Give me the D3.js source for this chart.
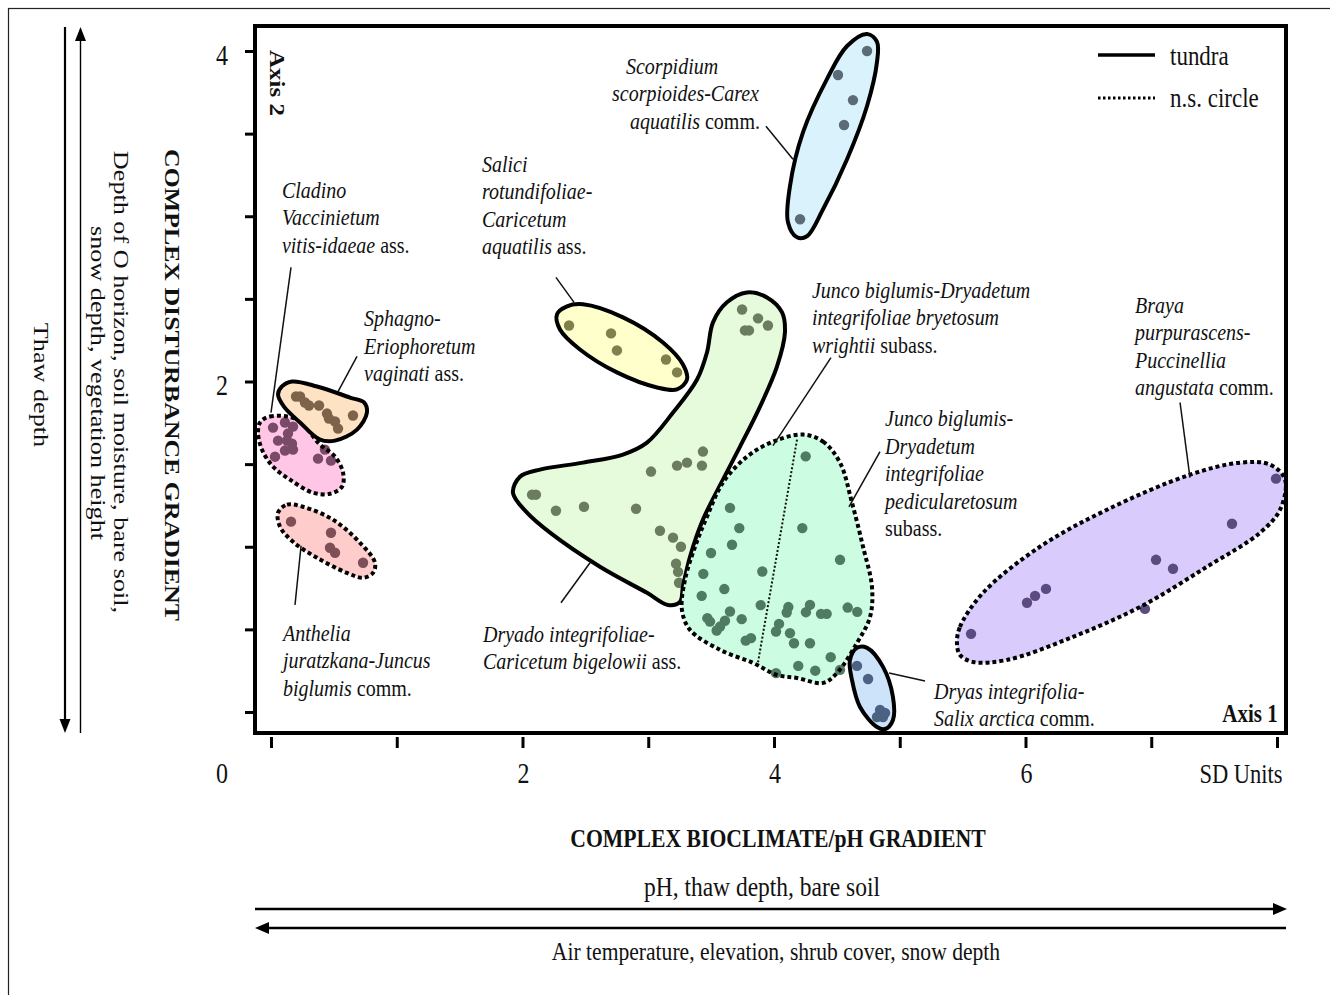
<!DOCTYPE html>
<html><head><meta charset="utf-8">
<script src="https://cdn.jsdelivr.net/npm/d3@7"></script>
<style>
html,body{margin:0;padding:0;background:#fff;}
svg{display:block;}
text{font-family:"Liberation Serif","Times New Roman",serif;fill:#111;}
</style></head><body>
<svg id="chart" width="1330" height="995"></svg>
<script>
// ---------------- DATA (axis units: SD units) ----------------
const xTickValues = [0,1,2,3,4,5,6,7,8];
const xTickLabels = [{v:2,t:"2"},{v:4,t:"4"},{v:6,t:"6"},{v:8,t:"SD Units"}];
const yTickValues = [0,0.5,1,1.5,2,2.5,3,3.5,4];
const yTickLabels = [{v:2,t:"2"},{v:4,t:"4"}];

// Cladino-Vaccinietum vitis-idaeae ass.
const cladinoPts = [[0.016,1.721],[0.111,1.752],[0.175,1.727],[0.135,1.685],[0.056,1.642],[0.127,1.642],[0.167,1.624],[0.111,1.582],[0.175,1.588],[0.032,1.545],[0.429,1.588],[0.374,1.533],[0.477,1.521]];
const cladinoHull = [[-0.087,1.752],[-0.008,1.788],[0.207,1.770],[0.390,1.618],[0.509,1.545],[0.573,1.448],[0.565,1.364],[0.469,1.321],[0.334,1.327],[0.151,1.406],[0.016,1.485],[-0.072,1.588],[-0.103,1.691]];
// Sphagno-Eriophoretum vaginati ass.
const sphagnoPts = [[0.199,1.909],[0.231,1.909],[0.270,1.873],[0.302,1.855],[0.382,1.855],[0.445,1.806],[0.461,1.776],[0.509,1.758],[0.533,1.715],[0.652,1.794]];
const sphagnoHull = [[0.087,1.970],[0.167,2.000],[0.366,1.970],[0.628,1.903],[0.740,1.873],[0.763,1.812],[0.684,1.709],[0.509,1.642],[0.390,1.648],[0.231,1.752],[0.103,1.848],[0.056,1.921]];
// Anthelia juratzkana-Juncus biglumis comm.
const antheliaPts = [[0.159,1.152],[0.477,1.085],[0.469,0.994],[0.509,0.964],[0.732,0.903]];
const antheliaHull = [[0.056,1.206],[0.127,1.255],[0.254,1.242],[0.493,1.164],[0.708,1.024],[0.827,0.903],[0.811,0.842],[0.732,0.812],[0.604,0.842],[0.366,0.933],[0.175,1.030],[0.072,1.121]];
// Salici rotundifoliae-Caricetum aquatilis ass.
const saliciPts = [[2.370,2.339],[2.704,2.291],[2.751,2.188],[3.141,2.133],[3.229,2.055]];
const saliciHull = [[2.274,2.406],[2.354,2.455],[2.481,2.467],[2.799,2.388],[3.117,2.236],[3.276,2.103],[3.308,2.012],[3.229,1.952],[3.070,1.964],[2.751,2.055],[2.457,2.194],[2.298,2.315]];
// Scorpidium scorpioides-Carex aquatilis comm.
const scorpidiumPts = [[4.740,4.000],[4.509,3.855],[4.628,3.703],[4.557,3.552],[4.207,2.982]];
const scorpidiumHull = [[4.740,4.103],[4.819,4.055],[4.819,3.933],[4.740,3.667],[4.581,3.345],[4.390,3.042],[4.262,2.879],[4.183,2.873],[4.111,2.964],[4.127,3.182],[4.231,3.509],[4.421,3.830],[4.581,4.030]];
// Dryado integrifoliae-Caricetum bigelowii ass.
const dryadoPts = [[3.746,2.436],[3.873,2.382],[3.952,2.339],[3.769,2.309],[3.801,2.309],[3.435,1.576],[3.229,1.491],[3.308,1.509],[3.427,1.491],[3.022,1.455],[2.076,1.315],[2.107,1.315],[2.266,1.218],[2.489,1.242],[2.903,1.230],[3.093,1.097],[3.197,1.055],[3.260,1.000],[3.221,0.897],[3.237,0.848],[3.245,0.782]];
const dryadoHull = [[3.785,2.539],[3.944,2.509],[4.064,2.418],[4.087,2.297],[4.024,2.091],[3.889,1.848],[3.730,1.606],[3.594,1.406],[3.435,1.164],[3.332,0.939],[3.276,0.758],[3.252,0.667],[3.157,0.648],[2.990,0.721],[2.616,0.879],[2.219,1.085],[2.036,1.206],[1.924,1.327],[1.980,1.424],[2.139,1.467],[2.481,1.509],[2.799,1.558],[2.990,1.630],[3.197,1.812],[3.388,2.012],[3.467,2.176],[3.515,2.358],[3.626,2.479]];
// Junco biglumis-Dryadetum integrifoliae (bryetosum wrightii + pedicularetosum)
const juncoPts = [[4.252,1.547],[3.650,1.235],[3.724,1.113],[3.666,1.012],[3.499,0.962],[4.225,1.113],[4.525,0.921],[3.907,0.850],[3.438,0.836],[3.605,0.744],[3.425,0.703],[3.894,0.647],[3.650,0.608],[3.743,0.562],[3.470,0.568],[3.491,0.547],[3.610,0.552],[3.571,0.517],[3.544,0.493],[4.114,0.635],[4.101,0.602],[4.286,0.648],[4.254,0.604],[4.374,0.594],[4.419,0.594],[4.586,0.632],[4.662,0.606],[3.817,0.447],[3.775,0.432],[4.040,0.533],[4.016,0.487],[4.127,0.477],[4.159,0.416],[4.286,0.416],[4.451,0.332],[4.193,0.279],[4.328,0.250],[4.525,0.255],[4.016,0.235]];
const juncoHull = [[4.231,1.679],[4.390,1.636],[4.525,1.509],[4.620,1.267],[4.708,1.000],[4.779,0.758],[4.764,0.576],[4.660,0.418],[4.501,0.236],[4.390,0.176],[4.183,0.206],[4.024,0.224],[3.833,0.297],[3.571,0.376],[3.332,0.497],[3.268,0.618],[3.292,0.800],[3.372,1.000],[3.467,1.182],[3.594,1.388],[3.785,1.545],[3.992,1.636]];
const juncoDivider = [[4.183,1.648],[3.865,0.267]];
// Dryas integrifolia-Salix arctica comm.
const dryasPts = [[4.660,0.279],[4.748,0.200],[4.843,0.012],[4.883,-0.006],[4.819,-0.030],[4.867,-0.030]];
const dryasHull = [[4.660,0.388],[4.740,0.388],[4.867,0.273],[4.946,0.091],[4.946,-0.048],[4.883,-0.103],[4.819,-0.091],[4.684,0.030],[4.620,0.194],[4.604,0.315]];
// Braya purpurascens-Puccinellia angustata comm.
const brayaPts = [[5.567,0.473],[6.012,0.661],[6.076,0.703],[6.163,0.745],[7.038,0.921],[7.173,0.867],[6.950,0.624],[7.642,1.139],[7.992,1.412]];
const brayaHull = [[5.455,0.418],[5.479,0.515],[5.662,0.721],[6.115,1.000],[6.648,1.224],[7.308,1.436],[7.706,1.509],[7.944,1.497],[8.064,1.406],[8.024,1.224],[7.865,1.085],[7.443,0.879],[6.911,0.636],[6.378,0.455],[5.853,0.315],[5.583,0.303],[5.479,0.345]];

const groups = [
  {id:"cladino", pts:cladinoPts, hull:cladinoHull},
  {id:"sphagno", pts:sphagnoPts, hull:sphagnoHull},
  {id:"anthelia", pts:antheliaPts, hull:antheliaHull},
  {id:"salici", pts:saliciPts, hull:saliciHull},
  {id:"scorpidium", pts:scorpidiumPts, hull:scorpidiumHull},
  {id:"dryado", pts:dryadoPts, hull:dryadoHull},
  {id:"junco", pts:juncoPts, hull:juncoHull},
  {id:"dryas", pts:dryasPts, hull:dryasHull},
  {id:"braya", pts:brayaPts, hull:brayaHull}
];

// annotation labels: text segments [text, italic]
const annotations = [
  {x:[0.087], y:3.164, lines:[[["Cladino",1]],[["Vaccinietum",1]],[["vitis-idaeae",1],[" ass.",0]]], leader:[[0.159,2.691],[0.0,1.812]]},
  {x:[0.740], y:2.388, lines:[[["Sphagno-",1]],[["Eriophoretum",1]],[["vaginati",1],[" ass.",0]]], leader:[[0.684,2.152],[0.533,1.939]]},
  {x:[0.095], y:0.485, lines:[[["Anthelia",1]],[["juratzkana-Juncus",1]],[["biglumis",1],[" comm.",0]]], leader:[[0.191,0.648],[0.239,1.006]]},
  {x:[1.678], y:3.321, lines:[[["Salici",1]],[["rotundifoliae-",1]],[["Caricetum",1]],[["aquatilis",1],[" ass.",0]]], leader:[[2.266,2.630],[2.410,2.479]]},
  {x:[2.823,2.712,2.855], y:3.915, lines:[[["Scorpidium",1]],[["scorpioides-Carex",1]],[["aquatilis",1],[" comm.",0]]], leader:[[3.936,3.545],[4.151,3.345]]},
  {x:[4.302], y:2.558, lines:[[["Junco biglumis-Dryadetum",1]],[["integrifoliae bryetosum",1]],[["wrightii",1],[" subass.",0]]], leader:[[4.453,2.145],[3.992,1.612]]},
  {x:[4.883], y:1.782, lines:[[["Junco biglumis-",1]],[["Dryadetum",1]],[["integrifoliae",1]],[["pedicularetosum",1]],[["subass.",0]]], leader:[[4.843,1.576],[4.596,1.242]]},
  {x:[6.871], y:2.467, lines:[[["Braya",1]],[["purpurascens-",1]],[["Puccinellia",1]],[["angustata",1],[" comm.",0]]], leader:[[7.229,1.873],[7.308,1.418]]},
  {x:[1.686], y:0.479, lines:[[["Dryado integrifoliae-",1]],[["Caricetum bigelowii",1],[" ass.",0]]], leader:[[2.306,0.661],[2.537,0.903]]},
  {x:[5.272], y:0.133, lines:[[["Dryas integrifolia-",1]],[["Salix arctica",1],[" comm.",0]]], leader:[[5.201,0.188],[4.915,0.236]]}
];

// ---------------- STYLES ----------------
const groupStyle = {
  cladino:{fill:"#ffc6e6", dot:"#7b4a68", dotted:true},
  sphagno:{fill:"#fde2c4", dot:"#7d6349", dotted:false},
  anthelia:{fill:"#ffcccc", dot:"#7f4f57", dotted:true},
  salici:{fill:"#ffffcc", dot:"#80804f", dotted:false},
  scorpidium:{fill:"#d9f2fc", dot:"#5b6c77", dotted:false},
  dryado:{fill:"#e6fbdc", dot:"#6b7d5e", dotted:false},
  junco:{fill:"#ccfde3", dot:"#4f7b63", dotted:true},
  dryas:{fill:"#cce3fa", dot:"#4b6283", dotted:false},
  braya:{fill:"#d9ccfc", dot:"#5b4b80", dotted:true}
};
const SY = 1.19;      // vertical stretch of glyphs in the reference
const LINE_H = 27.5;

// ---------------- DRAW ----------------
const svg = d3.select("#chart");
const x = d3.scaleLinear().domain([0,8]).range([271,1277]);
const y = d3.scaleLinear().domain([0,4]).range([712,51]);

function addText(parent, px, py, segs, o){
  const t = parent.append("text")
    .attr("transform", o.rotate ? `translate(${px},${py}) rotate(90) scale(${SY},1)` : `translate(${px},${py}) scale(1,${SY})`)
    .attr("dominant-baseline","central")
    .attr("text-anchor", o.anchor||"start")
    .style("font-size", o.size+"px")
    .style("font-weight", o.bold?"bold":"normal");
  segs.forEach(([s,it]) => t.append("tspan").attr("dominant-baseline","central").text(s).style("font-style", it?"italic":"normal"));
  return t;
}

// page frame
svg.append("rect").attr("x",8.5).attr("y",8.5).attr("width",1400).attr("height",1100)
  .attr("fill","none").attr("stroke","#222").attr("stroke-width",1.2);

const hullLine = d3.line().x(d=>x(d[0])).y(d=>y(d[1])).curve(d3.curveCatmullRomClosed.alpha(0.5));

const gShapes = svg.append("g");
groups.forEach(gr => {
  const st = groupStyle[gr.id];
  const g = gShapes.append("g").attr("class","grp-"+gr.id);
  g.append("path").attr("d", hullLine(gr.hull)).attr("fill", st.fill).attr("stroke","none");
  g.selectAll("circle").data(gr.pts).join("circle")
    .attr("cx", d=>x(d[0])).attr("cy", d=>y(d[1])).attr("r",5.2).attr("fill", st.dot);
  if (gr.id === "junco") {
    g.append("path").attr("d", d3.line().x(d=>x(d[0])).y(d=>y(d[1]))(juncoDivider))
      .attr("fill","none").attr("stroke","#111").attr("stroke-width",2).attr("stroke-dasharray","2,2");
  }
  g.append("path").attr("d", hullLine(gr.hull)).attr("fill","none").attr("stroke","#000")
    .attr("stroke-width",4).attr("stroke-linejoin","round")
    .attr("stroke-dasharray", st.dotted ? "4,3" : null);
});

// annotations
const gAnn = svg.append("g");
annotations.forEach(a => {
  gAnn.append("line")
    .attr("x1", x(a.leader[0][0])).attr("y1", y(a.leader[0][1]))
    .attr("x2", x(a.leader[1][0])).attr("y2", y(a.leader[1][1]))
    .attr("stroke","#111").attr("stroke-width",1.5);
  a.lines.forEach((segs,i) => {
    const xi = a.x[Math.min(i, a.x.length-1)];
    addText(gAnn, x(xi), y(a.y) + i*LINE_H, segs, {size:20});
  });
});

// plot box
svg.append("rect").attr("x",255).attr("y",26).attr("width",1031).attr("height",707)
  .attr("fill","none").attr("stroke","#000").attr("stroke-width",4);

// axes ticks
const yAxis = d3.axisLeft(y).tickValues(yTickValues).tickSize(10).tickFormat("");
const gy = svg.append("g").attr("transform","translate(255,0)").call(yAxis);
gy.select(".domain").remove();
gy.selectAll(".tick line").attr("stroke","#000").attr("stroke-width",3);

const xAxis = d3.axisBottom(x).tickValues(xTickValues).tickSize(11).tickFormat("");
const gx = svg.append("g").attr("transform","translate(0,737)").call(xAxis);
gx.select(".domain").remove();
gx.selectAll(".tick line").attr("stroke","#000").attr("stroke-width",3);

yTickLabels.forEach(d => addText(svg, 222, y(d.v)+4, [[d.t,0]], {anchor:"middle", size:24}));
xTickLabels.forEach(d => addText(svg, d.t.length>1 ? x(d.v)-36 : x(d.v)+1, 773, [[d.t,0]], {anchor:"middle", size:d.t.length>1?22.5:24}));
addText(svg, 222, 773, [["0",0]], {anchor:"middle", size:24});

// axis name tags inside box
addText(svg, 1250, 713, [["Axis 1",0]], {anchor:"middle", size:21, bold:1});
addText(svg, 277, 83, [["Axis 2",0]], {anchor:"middle", size:21, bold:1, rotate:1});

// legend
svg.append("line").attr("x1",1098).attr("x2",1155).attr("y1",55).attr("y2",55).attr("stroke","#000").attr("stroke-width",3.5);
svg.append("line").attr("x1",1098).attr("x2",1155).attr("y1",98).attr("y2",98).attr("stroke","#000").attr("stroke-width",3).attr("stroke-dasharray","2.5,2.5");
addText(svg, 1170, 55, [["tundra",0]], {size:23});
addText(svg, 1170, 97, [["n.s. circle",0]], {size:23});

// left gradient labels and arrows
addText(svg, 172, 385, [["COMPLEX DISTURBANCE GRADIENT",0]], {rotate:1, anchor:"middle", size:21.7, bold:1});
addText(svg, 122, 382, [["Depth of O horizon, soil moisture, bare soil,",0]], {rotate:1, anchor:"middle", size:22});
addText(svg, 99, 383, [["snow depth, vegetation height",0]], {rotate:1, anchor:"middle", size:22});
addText(svg, 42, 385, [["Thaw depth",0]], {rotate:1, anchor:"middle", size:22});

svg.append("line").attr("x1",65).attr("x2",65).attr("y1",27).attr("y2",720).attr("stroke","#000").attr("stroke-width",2.2);
svg.append("path").attr("d","M59.5,719L70.5,719L65,733Z").attr("fill","#000");
svg.append("line").attr("x1",80.5).attr("x2",80.5).attr("y1",40).attr("y2",733).attr("stroke","#000").attr("stroke-width",1.4);
svg.append("path").attr("d","M75,41L86,41L80.5,27Z").attr("fill","#000");

// bottom gradient labels and arrows
addText(svg, 778, 838, [["COMPLEX BIOCLIMATE/pH GRADIENT",0]], {anchor:"middle", size:21.7, bold:1});
addText(svg, 762, 886, [["pH, thaw depth, bare soil",0]], {anchor:"middle", size:23.5});
addText(svg, 776, 951, [["Air temperature, elevation, shrub cover, snow depth",0]], {anchor:"middle", size:21.6});

svg.append("line").attr("x1",255).attr("x2",1275).attr("y1",909).attr("y2",909).attr("stroke","#000").attr("stroke-width",2.5);
svg.append("path").attr("d","M1273,903L1273,915L1287,909Z").attr("fill","#000");
svg.append("line").attr("x1",267).attr("x2",1286).attr("y1",928).attr("y2",928).attr("stroke","#000").attr("stroke-width",2.5);
svg.append("path").attr("d","M269,922L269,934L255,928Z").attr("fill","#000");
</script>
</body></html>
